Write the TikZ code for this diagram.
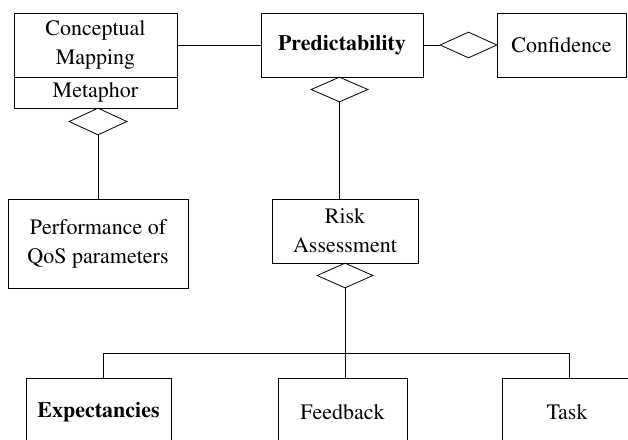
\documentclass[tikz,border=0pt]{standalone}
\usepackage[T1]{fontenc}
\usepackage{times}
\usetikzlibrary{shapes.geometric}
\begin{document}
\begin{tikzpicture}[x=1pt,y=-1pt,
  every node/.style={font=\fontsize{22}{29}\selectfont},
  box/.style={draw, line width=0.8pt, align=center, inner sep=0pt},
  rel/.style={draw, shape=diamond, line width=0.8pt, inner sep=0pt},
  conn/.style={line width=0.8pt}]
\useasboundingbox (0,0) rectangle (628,439);
\clip (0,0) rectangle (628,439);
% boxes
\node[box, minimum width=163pt, minimum height=64pt] (cm) at (95.5,45) {Conceptual\\Mapping};
\node[box, minimum width=163pt, minimum height=31pt] (meta) at (95.5,92.5) {Metaphor};
\node[box, minimum width=162pt, minimum height=64pt] (pred) at (342,45) {\textbf{Predictability}};
\node[box, minimum width=129pt, minimum height=64pt] (conf) at (561.5,45) {Confidence};
\node[box, minimum width=180pt, minimum height=89pt] (perf) at (98,243.5) {Performance of\\QoS parameters};
\node[box, minimum width=146pt, minimum height=64pt] (risk) at (345,231) {Risk\\Assessment};
\node[box, minimum width=145pt, minimum height=68pt] (exp) at (98.5,412) {\textbf{Expectancies}};
\node[box, minimum width=129pt, minimum height=68pt] (feed) at (342.5,412) {Feedback};
\node[box, minimum width=130pt, minimum height=68pt] (task) at (567,412) {Task};
% diamonds
\node[rel, minimum width=58pt, minimum height=27pt] (d1) at (98,121.5) {};
\node[rel, minimum width=57pt, minimum height=25pt] (d2) at (339.5,89.5) {};
\node[rel, minimum width=57pt, minimum height=26pt] (d3) at (468.5,45) {};
\node[rel, minimum width=56pt, minimum height=25pt] (d4) at (345,275.5) {};
% junction coordinates
\coordinate (j) at (345,353);
\coordinate (jl) at (103,353);
\coordinate (jr) at (569,353);
% connectors
\draw[conn] (cm.east) -- (pred.west);
\draw[conn] (pred.east) -- (d3.west);
\draw[conn] (d1.south) -- (d1.south |- perf.north);
\draw[conn] (d2.south) -- (d2.south |- risk.north);
\draw[conn] (d4.south) -- (j);
\draw[conn] (jl) -- (jr);
\draw[conn] (jl) -- (jl |- exp.north);
\draw[conn] (j) -- (j |- feed.north);
\draw[conn] (jr) -- (jr |- task.north);
\end{tikzpicture}
\end{document}
